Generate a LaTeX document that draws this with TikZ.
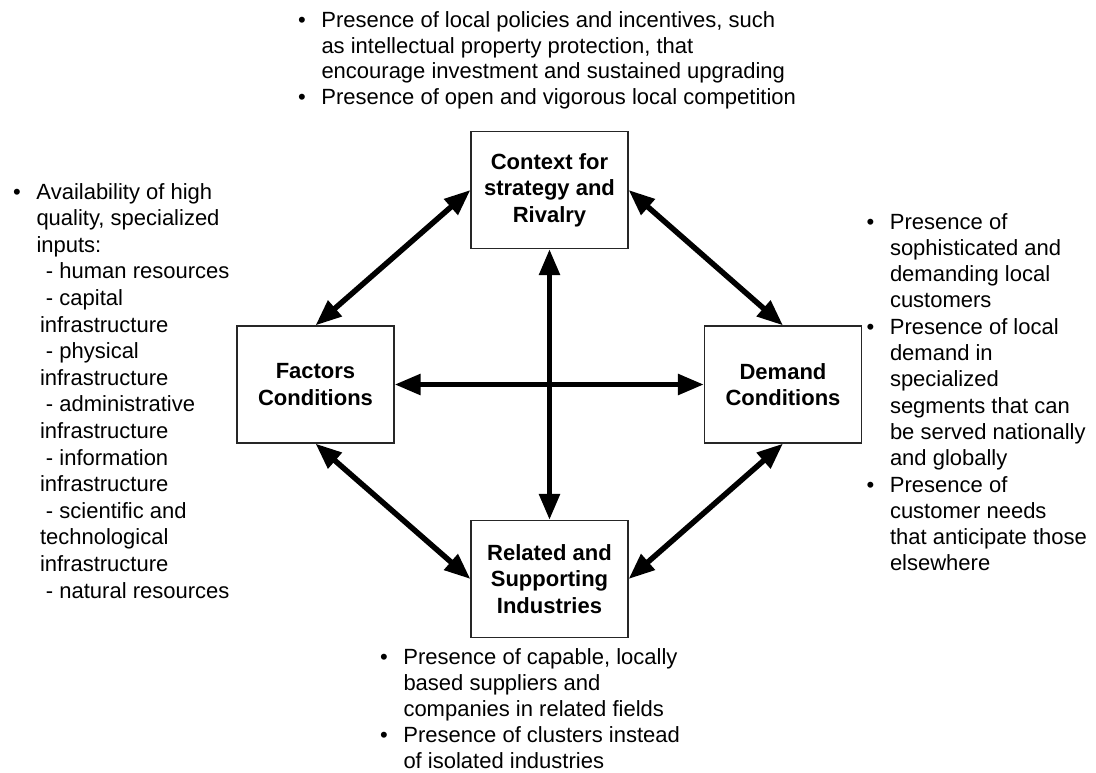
\documentclass[tikz,border=0pt]{standalone}
\usepackage{fontspec}
\setmainfont{Liberation Sans}
\usetikzlibrary{arrows.meta}
\newcommand\txtblock[3]{\parbox[t]{#1}{\fontsize{22}{#2}\selectfont\raggedright #3}}
\newcommand\bul{\leavevmode\llap{•\hspace{15.7pt}}}
\begin{document}
\begin{tikzpicture}[x=1pt,y=-1pt,
  box/.style={draw=black!85, line width=1.2pt, minimum width=157pt, minimum height=117pt,
    inner sep=0pt, align=center, font=\fontsize{22}{26.5}\selectfont\bfseries},
  link/.style={line width=5.5pt, {Triangle[length=26pt,width=20pt]}-{Triangle[length=26pt,width=20pt]}},
  txt/.style={anchor=base west, inner sep=0pt, outer sep=0pt}
]
\useasboundingbox (0,0) rectangle (1096,772);

% boxes
\node[box] (ctx) at (549.5,190) {Context for\\strategy and\\Rivalry};
\node[box] (fac) at (315.5,384.5) {Factors\\Conditions};
\node[box] (dem) at (783,384.5) {Demand\\Conditions};
\node[box] (rel) at (549.5,579) {Related and\\Supporting\\Industries};

% connectors
\draw[link] (ctx.south) -- (rel.north);
\draw[link] (fac.east) -- (dem.west);
\draw[link] (ctx.west) -- (fac.north);
\draw[link] (ctx.east) -- (dem.north);
\draw[link] (fac.south) -- (rel.west);
\draw[link] (dem.south) -- (rel.east);

% text blocks
\node[txt] (ttop) at (321.5,27.5) {\txtblock{500pt}{25.5pt}{%
\bul Presence of local policies and incentives, such\\
as intellectual property protection, that\\
encourage investment and sustained upgrading\\
\bul Presence of open and vigorous local competition}};

\node[txt] (tleft) at (36.5,199) {\txtblock{220pt}{26.6pt}{%
\bul Availability of high\\
quality, specialized\\
inputs:\\
\hspace*{9.5pt}- human resources\\
\hspace*{9.5pt}- capital\\
\hspace*{3.5pt}infrastructure\\
\hspace*{9.5pt}- physical\\
\hspace*{3.5pt}infrastructure\\
\hspace*{9.5pt}- administrative\\
\hspace*{3.5pt}infrastructure\\
\hspace*{9.5pt}- information\\
\hspace*{3.5pt}infrastructure\\
\hspace*{9.5pt}- scientific and\\
\hspace*{3.5pt}technological\\
\hspace*{3.5pt}infrastructure\\
\hspace*{9.5pt}- natural resources}};

\node[txt] (tright) at (890,229) {\txtblock{205pt}{26.3pt}{%
\bul Presence of\\
sophisticated and\\
demanding local\\
customers\\
\bul Presence of local\\
demand in\\
specialized\\
segments that can\\
be served nationally\\
and globally\\
\bul Presence of\\
customer needs\\
that anticipate those\\
elsewhere}};

\node[txt] (tbot) at (403.5,664) {\txtblock{320pt}{26pt}{%
\bul Presence of capable, locally\\
based suppliers and\\
companies in related fields\\
\bul Presence of clusters instead\\
of isolated industries}};
\end{tikzpicture}
\end{document}
